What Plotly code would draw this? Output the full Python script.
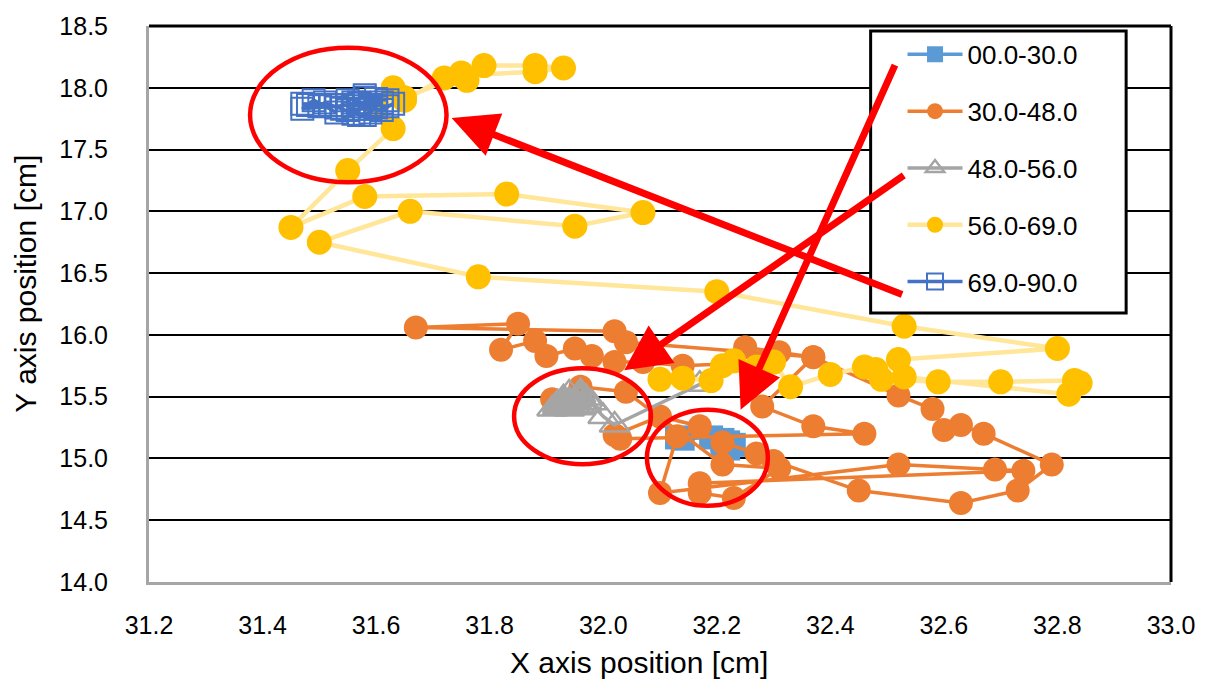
import plotly.graph_objects as go

# ---- tracked positions per time window [cm] ----
s1_x = [32.13, 32.14, 32.19, 32.21, 32.22, 32.23, 32.22, 32.21]
s1_y = [15.17, 15.16, 15.17, 15.15, 15.13, 15.11, 15.08, 15.10]

s2_x = [32.21, 32.27, 32.30, 32.45, 32.63, 32.73, 32.79, 32.67, 32.63, 32.60,
        32.58, 32.52, 32.37, 32.31, 32.25, 32.29, 32.14, 32.07, 32.02, 31.98,
        31.95, 31.90, 31.88, 31.82, 31.85, 31.67, 32.02, 32.04, 32.37, 32.28,
        32.37, 32.46, 32.03, 32.02, 32.10, 32.17, 32.13, 32.10, 32.52, 32.69,
        32.74, 32.17, 32.17, 32.23, 32.31, 32.21, 32.04, 31.96, 31.91, 31.93]
s2_y = [15.13, 15.04, 14.98, 14.74, 14.64, 14.74, 14.95, 15.20, 15.27, 15.23,
        15.40, 15.51, 15.82, 15.86, 15.90, 15.78, 15.75, 15.78, 15.78, 15.83,
        15.89, 15.83, 15.95, 15.88, 16.09, 16.06, 16.03, 15.94, 15.82, 15.42,
        15.26, 15.20, 15.16, 15.19, 15.34, 15.26, 15.18, 14.72, 14.95, 14.91,
        14.90, 14.80, 14.72, 14.68, 14.92, 14.95, 15.54, 15.58, 15.48, 15.45]

s3_x = [31.91, 31.92, 31.93, 31.92, 31.94, 31.93, 31.94, 31.95, 31.95, 31.96,
        31.94, 31.93, 31.96, 31.95, 31.97, 31.92, 31.94, 31.96, 31.97, 31.98,
        31.96, 32.00, 32.02, 32.17]
s3_y = [15.40, 15.43, 15.46, 15.41, 15.44, 15.49, 15.53, 15.47, 15.42, 15.48,
        15.40, 15.43, 15.51, 15.45, 15.43, 15.45, 15.47, 15.41, 15.49, 15.45,
        15.54, 15.34, 15.27, 15.60]

s4_x = [32.10, 32.14, 32.19, 32.21, 32.23, 32.27, 32.30, 32.33, 32.40, 32.46,
        32.48, 32.49, 32.59, 32.70, 32.83, 32.84, 32.82, 32.53, 32.52, 32.80,
        32.53, 32.20, 31.78, 31.50, 31.66, 31.95, 32.07, 31.83, 31.58, 31.45,
        31.55, 31.63, 31.60, 31.63, 31.65, 31.72, 31.75, 31.76, 31.79, 31.88,
        31.93, 31.88, 31.75, 31.65, 31.60]
s4_y = [15.64, 15.65, 15.63, 15.75, 15.79, 15.74, 15.78, 15.58, 15.68, 15.74,
        15.72, 15.64, 15.62, 15.62, 15.63, 15.61, 15.52, 15.66, 15.80, 15.89,
        16.07, 16.35, 16.47, 16.75, 17.00, 16.88, 16.99, 17.14, 17.12, 16.87,
        17.33, 17.67, 17.85, 18.00, 17.90, 18.08, 18.12, 18.06, 18.18, 18.18,
        18.16, 18.13, 18.10, 17.92, 17.85]

s5_x = [31.60, 31.57, 31.59, 31.62, 31.63, 31.61, 31.58, 31.55, 31.56, 31.54,
        31.53, 31.51, 31.50, 31.48, 31.47, 31.52, 31.54, 31.56, 31.58, 31.60,
        31.59, 31.57, 31.55, 31.58, 31.62, 31.60, 31.57, 31.59, 31.56, 31.58,
        31.61, 31.47, 31.49, 31.53]
s5_y = [17.85, 17.88, 17.86, 17.85, 17.87, 17.82, 17.83, 17.82, 17.85, 17.86,
        17.84, 17.88, 17.85, 17.86, 17.87, 17.86, 17.83, 17.79, 17.78, 17.84,
        17.80, 17.78, 17.90, 17.92, 17.90, 17.91, 17.87, 17.83, 17.88, 17.94,
        17.88, 17.83, 17.90, 17.80]

legend_names = ["00.0-30.0", "30.0-48.0", "48.0-56.0", "56.0-69.0", "69.0-90.0"]
x_title = "X axis position [cm]"
y_title = "Y axis position [cm]"

FONT = "Liberation Sans, Arial, sans-serif"

fig = go.Figure()

series = [
    (s1_x, s1_y, dict(symbol="square", size=24, color="#5b9bd5"),
     dict(color="#5b9bd5", width=3.5)),
    (s2_x, s2_y, dict(symbol="circle", size=24, color="#ed7d31"),
     dict(color="#ed7d31", width=3.5)),
    (s3_x, s3_y, dict(symbol="triangle-up-open", size=26, color="#a5a5a5",
                      line=dict(width=2.5, color="#a5a5a5")),
     dict(color="#a5a5a5", width=3.5)),
    (s4_x, s4_y, dict(symbol="circle", size=25, color="#ffc000"),
     dict(color="#ffe699", width=4.5)),
    (s5_x, s5_y, dict(symbol="square-open", size=22, color="#4472c4",
                      line=dict(width=2, color="#4472c4")),
     dict(color="#4472c4", width=3.5)),
]

for name, (xs, ys, mk, ln) in zip(legend_names, series):
    fig.add_trace(go.Scatter(
        x=xs, y=ys, mode="lines+markers", name=name,
        legendgroup=name, marker=mk, line=ln,
    ))

# red highlight ellipses
ellipses = [
    (31.378, 17.235, 31.724, 18.324),
    (31.843, 14.953, 32.084, 15.730),
    (32.077, 14.617, 32.290, 15.394),
]
for x0, y0, x1, y1 in ellipses:
    fig.add_shape(type="circle", xref="x", yref="y", x0=x0, y0=y0, x1=x1, y1=y1,
                  line=dict(color="#ff0000", width=4.5), layer="above")

# legend frame (white box with black border)
fig.add_shape(type="rect", xref="paper", yref="paper",
              x0=0.7061, x1=0.9561, y0=0.484, y1=0.9911,
              fillcolor="white", line=dict(color="black", width=3), layer="above")

# red arrows from the legend to the highlighted regions (tip, tail)
arrows = [
    ((32.242, 15.394), (32.515, 18.196)),
    ((32.037, 15.714), (32.532, 17.299)),
    ((31.733, 17.755), (32.529, 16.322)),
]
for (tx, ty), (sx, sy) in arrows:
    fig.add_annotation(x=tx, y=ty, ax=sx, ay=sy, xref="x", yref="y",
                       axref="x", ayref="y", text="", showarrow=True,
                       arrowhead=2, arrowsize=1.3, arrowwidth=7,
                       arrowcolor="#ff0000")

# axis titles
fig.add_annotation(text=x_title, xref="paper", yref="paper", x=0.4795, y=-0.144,
                   xanchor="center", yanchor="middle", showarrow=False,
                   font=dict(family=FONT, size=30, color="black"))
fig.add_annotation(text=y_title, xref="paper", yref="paper", x=-0.1211, y=0.537,
                   xanchor="center", yanchor="middle", showarrow=False,
                   textangle=-90,
                   font=dict(family=FONT, size=30, color="black"))

# plot-area frame: black on top and right
fig.add_shape(type="line", xref="paper", yref="paper", x0=0, x1=1, y0=1, y1=1,
              line=dict(color="black", width=3))
fig.add_shape(type="line", xref="paper", yref="paper", x0=1, x1=1, y0=0, y1=1,
              line=dict(color="black", width=3))

fig.update_layout(
    width=1207, height=684,
    margin=dict(l=149, r=34, t=20, b=102),
    paper_bgcolor="white", plot_bgcolor="white",
    font=dict(family=FONT, size=25, color="black"),
    showlegend=True,
    legend=dict(
        x=0.7373, y=0.9911, xanchor="left", yanchor="top",
        bgcolor="rgba(0,0,0,0)", borderwidth=0,
        font=dict(family=FONT, size=26, color="black"),
        itemwidth=55, tracegroupgap=20,
        traceorder="grouped",
    ),
    xaxis=dict(
        range=[31.2, 33.0], dtick=0.2, tick0=31.2, tickformat=".1f",
        showgrid=False, zeroline=False,
        showline=True, linecolor="#a6a6a6", linewidth=3,
        ticks="", ticklabelstandoff=19,
        tickfont=dict(family=FONT, size=25, color="black"),
    ),
    yaxis=dict(
        range=[14.0, 18.5], dtick=0.5, tick0=14.0, tickformat=".1f",
        showgrid=True, gridcolor="black", gridwidth=2, zeroline=False,
        showline=True, linecolor="#a6a6a6", linewidth=3,
        ticks="", ticklabelstandoff=33,
        tickfont=dict(family=FONT, size=25, color="black"),
    ),
)

fig.write_html("out.html")
